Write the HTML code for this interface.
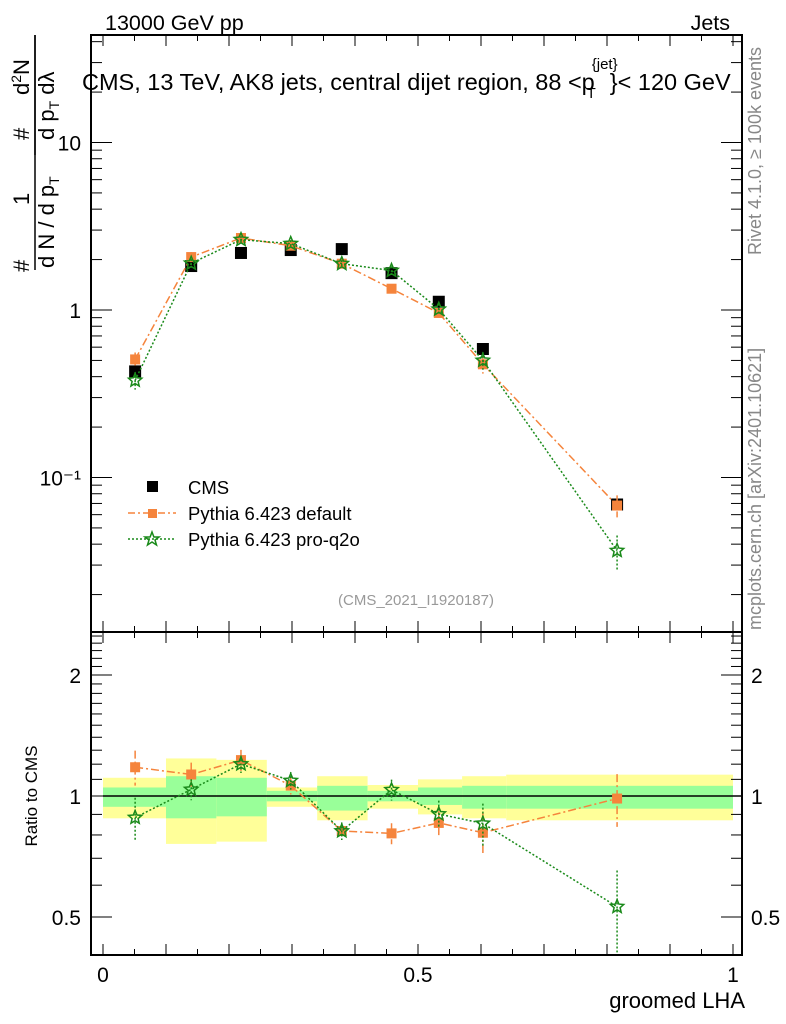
<!DOCTYPE html>
<html><head><meta charset="utf-8"><style>
body{margin:0;background:#fff}
svg{display:block;font-family:"Liberation Sans",sans-serif}
</style></head><body>
<svg id="chart" width="786" height="1024" viewBox="0 0 786 1024" xmlns="http://www.w3.org/2000/svg">
<g id="bands"></g>
<g id="grid"></g>
<g id="series"></g>
<rect x="91" y="35" width="651" height="597" fill="none" stroke="#000" stroke-width="2"/>
<rect x="91" y="632" width="651" height="323" fill="none" stroke="#000" stroke-width="2"/>
<text x="105" y="30" font-size="21.5">13000 GeV pp</text>
<text x="730" y="30" font-size="21.5" text-anchor="end">Jets</text>
<text x="82" y="90" font-size="23.5">CMS, 13 TeV, AK8 jets, central dijet region, 88 &lt;p<tspan font-size="15" dy="-21" dx="-3">{jet}</tspan><tspan font-size="15" dy="29" dx="-31">T</tspan><tspan dy="-8" dx="14">}&lt; 120 GeV</tspan></text>
<text transform="translate(761,255) rotate(-90)" font-size="18" fill="#888">Rivet 4.1.0, ≥ 100k events</text>
<text transform="translate(761,630) rotate(-90)" font-size="18" fill="#888">mcplots.cern.ch [arXiv:2401.10621]</text>
<text x="416" y="605" font-size="15" fill="#999" text-anchor="middle">(CMS_2021_I1920187)</text>
<g font-size="22">
<text transform="translate(29,272) rotate(-90)">#</text>
<text transform="translate(29,205) rotate(-90)">1</text>
<line x1="35" y1="270" x2="35" y2="35" stroke="#000" stroke-width="1.5"/>
<text transform="translate(54,268) rotate(-90)">d N / d p<tspan font-size="14" dy="5">T</tspan></text>
<text transform="translate(29,140) rotate(-90)">#</text>
<text transform="translate(29,95) rotate(-90)">d<tspan font-size="14" dy="-8">2</tspan><tspan dy="8">N</tspan></text>
<line x1="35" y1="155" x2="35" y2="35" stroke="#000" stroke-width="1.5"/>
<text transform="translate(54,140) rotate(-90)">d p<tspan font-size="14" dy="5">T</tspan><tspan dy="-5"> dλ</tspan></text>
</g>
<text transform="translate(37,796) rotate(-90)" font-size="17" text-anchor="middle">Ratio to CMS</text>
<text x="745" y="1008" font-size="22" text-anchor="end">groomed LHA</text>
<g>
<rect x="147" y="481" width="11" height="11" fill="#000"/>
<text x="188" y="494" font-size="18.5">CMS</text>
<line x1="128" y1="513" x2="176" y2="513" stroke="#f5843c" stroke-width="1.5" stroke-dasharray="7,3,2,3"/>
<rect x="148" y="509" width="9" height="9" fill="#f5843c"/>
<text x="188" y="520" font-size="18.5">Pythia 6.423 default</text>
<line x1="128" y1="539" x2="176" y2="539" stroke="#1a8a1a" stroke-width="1.5" stroke-dasharray="2,2"/>
<polygon points="152,532 153.9,537 159,537 155,540 156.5,545 152,542 147.5,545 149,540 145,537 150.1,537" fill="none" stroke="#1a8a1a" stroke-width="1.5"/>
<text x="188" y="546" font-size="18.5">Pythia 6.423 pro-q2o</text>
</g>
</svg>
<script>
const binEdges=[0,0.1,0.18,0.26,0.34,0.42,0.5,0.57,0.64,1.0];
const xCenters=[0.051,0.14,0.219,0.298,0.379,0.458,0.533,0.603,0.816];
const cmsVals=[0.43,1.83,2.19,2.28,2.31,1.66,1.12,0.585,0.069];
const defVals=[0.507,2.07,2.69,2.42,1.89,1.34,0.96,0.474,0.068];
const q2oVals=[0.38,1.9,2.63,2.49,1.89,1.72,1.01,0.50,0.0366];
const defErr=[0.1,0.07,0.06,0.05,0.05,0.06,0.07,0.12,0.15];
const q2oErr=[0.12,0.06,0.05,0.05,0.05,0.06,0.08,0.12,0.23];
const totHi=[1.11,1.24,1.23,1.05,1.12,1.065,1.1,1.12,1.13];
const totLo=[0.88,0.76,0.77,0.94,0.87,0.93,0.9,0.88,0.87];
const statHi=[1.05,1.12,1.11,1.03,1.06,1.03,1.05,1.06,1.06];
const statLo=[0.94,0.88,0.89,0.97,0.92,0.97,0.95,0.93,0.93];
const xTicks=[0,0.5,1];
const xTickLabels=["0","0.5","1"];
const mainTicks=[10,1,0.1];
const mainTickLabels=["10","1","10⁻¹"];
const ratioTicks=[0.5,1,2];
const ratioTickLabels=["0.5","1","2"];

const NS="http://www.w3.org/2000/svg";
const X=v=>103+630*v;
const Y=v=>310-167.5*Math.log10(v);
const R=v=>796-402*Math.log10(v);
function mk(parent,tag,attrs){const e=document.createElementNS(NS,tag);for(const k in attrs)e.setAttribute(k,attrs[k]);document.getElementById(parent).appendChild(e);return e;}

for(let i=0;i<9;i++){
  let e=mk('bands','rect',{x:X(binEdges[i]),y:R(totHi[i]),width:X(binEdges[i+1])-X(binEdges[i]),height:R(totLo[i])-R(totHi[i]),fill:'#ffff99'});
  
  
  e=mk('bands','rect',{x:X(binEdges[i]),y:R(statHi[i]),width:X(binEdges[i+1])-X(binEdges[i]),height:R(statLo[i])-R(statHi[i]),fill:'#99ff99'});
  
  
}
let ul=mk('bands','line',{x1:X(0),x2:742,y1:R(1),y2:R(1),stroke:'#000','stroke-width':1.5});



for(let k=0;k<=20;k++){
  const v=k*0.05, big=(k%2===0), L=big?11:6;
  for(const [y0,d] of [[955,-1],[632,-1],[632,1],[35,1]]){
    const t=mk('grid','line',{x1:X(v),x2:X(v),y1:y0,y2:y0+d*L,stroke:'#000','stroke-width':1});
    
    
  }
}
xTicks.forEach((v,i)=>{const t=mk('grid','text',{x:X(v),y:982,'font-size':21,'text-anchor':'middle'});t.textContent=xTickLabels[i];

});
for(let d=-2;d<=1;d++)for(let m=1;m<=9;m++){
  const v=m*Math.pow(10,d),y=Y(v); if(y<36||y>631)continue;
  const L=m===1?20:10;
  for(const [x0,s] of [[92,1],[741,-1]]){
    const t=mk('grid','line',{x1:x0,x2:x0+s*L,y1:y,y2:y,stroke:'#000','stroke-width':1});
    
    
  }
}
mainTicks.forEach((v,i)=>{const t=mk('grid','text',{x:81,y:Y(v)+8,'font-size':21,'text-anchor':'end'});t.textContent=mainTickLabels[i];

});
[0.5,0.6,0.7,0.8,0.9,1,1.1,1.2,1.3,1.4,1.5,1.6,1.7,1.8,1.9,2,2.1,2.2,2.3,2.4,2.5].forEach(v=>{
  const y=R(v); if(y<633||y>954)return;
  const L=(v===0.5||v===1||v===2)?20:10;
  for(const [x0,s] of [[92,1],[741,-1]]){
    const t=mk('grid','line',{x1:x0,x2:x0+s*L,y1:y,y2:y,stroke:'#000','stroke-width':1});
    
    
  }
});
ratioTicks.forEach((v,i)=>{
  for(const [x,a] of [[81,'end'],[751,'start']]){
  const t=mk('grid','text',{x:x,y:R(v)+8,'font-size':21,'text-anchor':a});t.textContent=ratioTickLabels[i];
  
  }
});

function star(cx,cy,r){let p=[];for(let i=0;i<10;i++){const a=-Math.PI/2+i*Math.PI/5,rr=i%2?r*0.45:r;p.push((cx+rr*Math.cos(a)).toFixed(1)+','+(cy+rr*Math.sin(a)).toFixed(1));}return p.join(' ');}
function drawSeries(vals,err,color,dash,name,marker){
  const pm=xCenters.map((x,i)=>X(x)+','+Y(vals[i])).join(' ');
  const ratios=vals.map((v,i)=>v/cmsVals[i]);
  const pr=xCenters.map((x,i)=>X(x)+','+R(ratios[i])).join(' ');
  let l=mk('series','polyline',{points:pm,fill:'none',stroke:color,'stroke-width':1.5,'stroke-dasharray':dash});
  
  
  l=mk('series','polyline',{points:pr,fill:'none',stroke:color,'stroke-width':1.5,'stroke-dasharray':dash});
  
  
  xCenters.forEach((x,i)=>{
    const cx=X(x);
    for(const [yf,v] of [[Y,vals[i]],[R,ratios[i]]]){
      const e=mk('series','line',{x1:cx,x2:cx,y1:yf(v*(1+err[i])),y2:yf(v*(1-err[i])),stroke:color,'stroke-width':1.5,'stroke-dasharray':dash});
      
      
      let m;
      if(marker==='sq'){m=mk('series','rect',{x:cx-5,y:yf(v)-5,width:10,height:10,fill:color});}
      else{m=mk('series','polygon',{points:star(cx,yf(v),7),fill:'none',stroke:color,'stroke-width':1.5});}
      
      
    }
  });
}
xCenters.forEach((x,i)=>{
  const m=mk('series','rect',{x:X(x)-6,y:Y(cmsVals[i])-6,width:12,height:12,fill:'#000'});
  
  
});
drawSeries(defVals,defErr,'#f5843c','8,3,2,3','pythia-default','sq');
drawSeries(q2oVals,q2oErr,'#1a8a1a','2,2','pythia-q2o','star');
</script>
</body></html>
